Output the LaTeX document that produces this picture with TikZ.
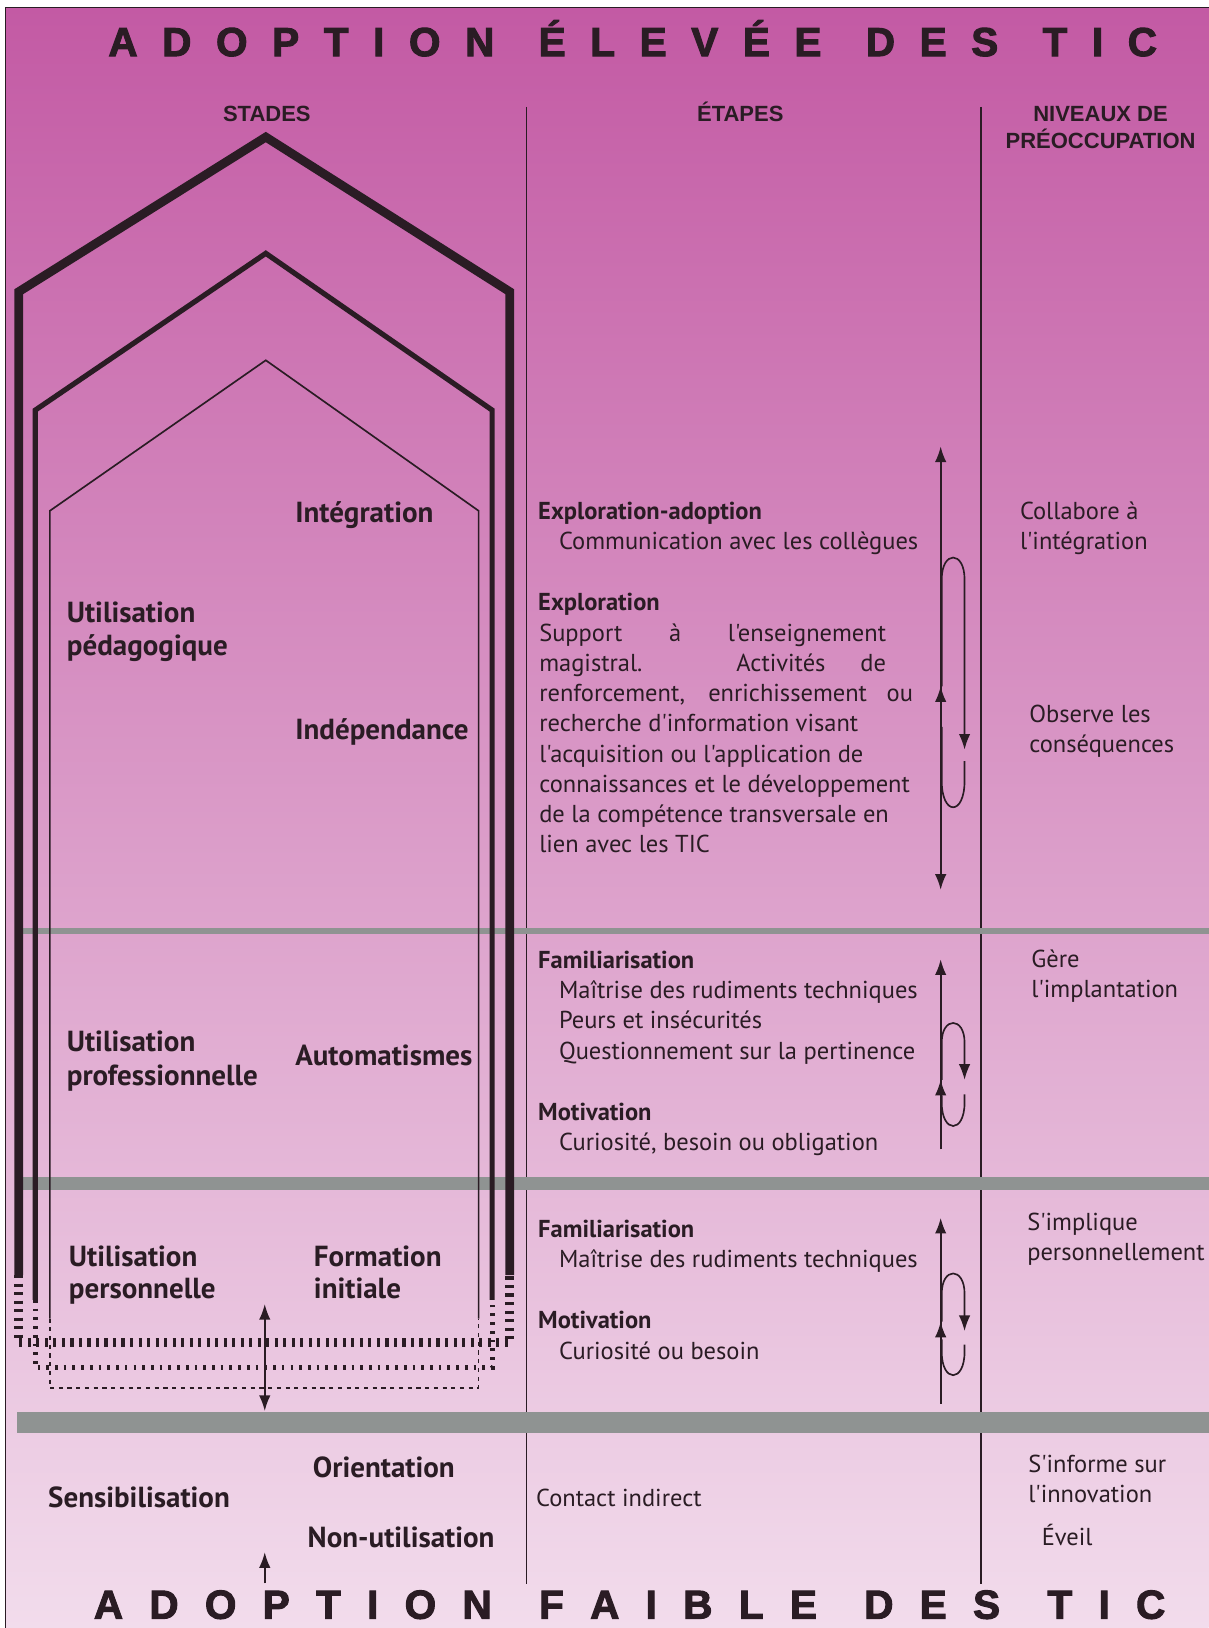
\documentclass[tikz,border=0pt]{standalone}
\usepackage{fontspec}
\setmainfont{PT Sans}[Ligatures=TeXOff]
\newfontfamily\hfont{Liberation Sans}[Ligatures=TeXOff]
\newfontfamily\tfont{Liberation Sans Bold}[Ligatures=TeXOff,FakeBold=2.5]
\usetikzlibrary{arrows.meta}
\definecolor{bgtop}{HTML}{C35AA4}
\definecolor{bgmid}{HTML}{DA94C6}
\definecolor{bgbot}{HTML}{F2DCEC}
\definecolor{bandgray}{HTML}{8F9392}
\definecolor{ink}{HTML}{2A1C24}
\newlength\calw
\newlength\calx
\AtBeginDocument{%
  \settowidth\calw{\normalfont\fontsize{10pt}{12pt}\selectfont Communication avec les collègues}%
  \settowidth\calx{\normalfont\fontsize{10pt}{12pt}\selectfont\bfseries Indépendance}%
  \pgfmathsetmacro\bsz{10*173/\calw}%
  \pgfmathsetmacro\ssz{10*83.5/\calx}%
  \xdef\bsz{\bsz}\xdef\ssz{\ssz}}
\newcommand\bodyfnt{\fontsize{\bsz pt}{\bsz pt}\selectfont}
\newcommand\stagefnt{\fontsize{\ssz pt}{\ssz pt}\selectfont\bfseries}
\newcommand\headfnt{\hfont\bfseries\fontsize{10.6pt}{12pt}\selectfont}
\newcommand\titlefnt{\tfont\fontsize{19.5pt}{23pt}\selectfont}
\newcommand\lgap{\hskip 0pt plus 1fil\relax}
\newcommand\wgap{\hskip 0pt plus 1.8fil\relax}
\begin{document}
\begin{tikzpicture}[x=0.5pt,y=-0.5pt,
  >={Latex[length=7.5pt,width=5.5pt]},
  bodytxt/.style={anchor=base west,inner sep=0pt,text=ink,font=\bodyfnt},
  boldtxt/.style={anchor=base west,inner sep=0pt,text=ink,font=\bodyfnt\bfseries},
  stagetxt/.style={anchor=base west,inner sep=0pt,text=ink,font=\stagefnt},
  headtxt/.style={anchor=base,inner sep=0pt,text=ink,font=\headfnt},
  titletxt/.style={anchor=base west,inner sep=0pt,text=ink,font=\titlefnt},
  divider/.style={draw=ink,line width=0.7pt},
  band/.style={fill=bandgray,draw=none},
  arr/.style={draw=ink,line width=0.8pt},
  house1/.style={draw=ink,line width=4.25pt},
  house2/.style={draw=ink,line width=2.5pt},
  house3/.style={draw=ink,line width=0.8pt},
  hatch1/.style={draw=ink,line width=4.25pt,dash pattern=on 1.5pt off 2.6pt},
  hatch2/.style={draw=ink,line width=2.5pt,dash pattern=on 1.3pt off 2.9pt},
  hatch3/.style={draw=ink,line width=0.8pt,dash pattern=on 2pt off 2.2pt}]
\useasboundingbox (0,0) rectangle (1164,1568);
% background
\fill[white] (0,0) rectangle (1164,1568);
\shade[top color=bgtop,middle color=bgmid,bottom color=bgbot] (5,7) rectangle (1164,1568);
\draw[ink,line width=0.6pt] (5,1568) -- (5,7) -- (1164,7);
% column dividers
\draw[divider] (507,103) -- (507,1526);
\draw[divider] (945,103) -- (945,1526);
% gray bands
\fill[band] (18,894) rectangle (1164,900);
\fill[band] (16,1134) rectangle (1164,1146);
\fill[band] (16,1360) rectangle (1164,1380);
% houses (stages)
\draw[house1] (18,1228) -- (18,281) -- (256,132) -- (491,281) -- (491,1228);
\draw[hatch1] (18,1228) -- (18,1293) -- (491,1293) -- (491,1228);
\draw[house2] (34,1252) -- (34,395) -- (256,244) -- (474,395) -- (474,1252);
\draw[hatch2] (34,1252) -- (34,1317) -- (474,1317) -- (474,1252);
\draw[house3] (48,1270) -- (48,492) -- (256,347) -- (461,492) -- (461,1270);
\draw[hatch3] (48,1270) -- (48,1337) -- (461,1337) -- (461,1270);
% arrows in STADES column
\coordinate (sa1) at (255,1256);
\coordinate (sa2) at (255,1359);
\draw[arr,<->] (sa2) -- (sa1);
\coordinate (sb1) at (255,1525);
\coordinate (sb2) at (255,1495);
\draw[arr,->] (sb1) -- (sb2);
% cycle arrows, upper section
\coordinate (u1) at (906,857);
\coordinate (u2) at (906,430);
\draw[arr,<->] (u1) -- (u2);
\coordinate (u3) at (906,690);
\coordinate (u4) at (906,661);
\draw[arr,->] (u3) -- (u4);
\coordinate (u5) at (929,722);
\draw[arr,->] (907,661) -- (907,558) .. controls (907,530) and (929,530) .. (929,558) -- (u5);
\draw[arr] (929,733) -- (929,752) .. controls (929,786) and (907,786) .. (907,752) -- (907,700);
% cycle arrows, middle section
\coordinate (m1) at (906,1107);
\coordinate (m2) at (906,924);
\draw[arr,->] (m1) -- (m2);
\coordinate (m3) at (906,1062);
\coordinate (m4) at (906,1040);
\draw[arr,->] (m3) -- (m4);
\coordinate (m5) at (929,1040);
\draw[arr,->] (907,1040) -- (907,1004) .. controls (907,979) and (929,979) .. (929,1004) -- (m5);
\draw[arr] (929,1054) -- (929,1062) .. controls (929,1092) and (907,1092) .. (907,1062) -- (907,1055);
% cycle arrows, lower section
\coordinate (l1) at (906,1352);
\coordinate (l2) at (906,1173);
\draw[arr,->] (l1) -- (l2);
\coordinate (l3) at (906,1295);
\coordinate (l4) at (906,1273);
\draw[arr,->] (l3) -- (l4);
\coordinate (l5) at (929,1282);
\draw[arr,->] (907,1273) -- (907,1246) .. controls (907,1220) and (929,1220) .. (929,1246) -- (l5);
\draw[arr] (929,1295) -- (929,1302) .. controls (929,1332) and (907,1332) .. (907,1302) -- (907,1290);
% titles
\node[titletxt] (ttop) at (104,54) {\makebox[505pt][s]{A\lgap D\lgap O\lgap P\lgap T\lgap I\lgap O\lgap N\wgap É\lgap L\lgap E\lgap V\lgap É\lgap E\wgap D\lgap E\lgap S\wgap T\lgap I\lgap C}};
\node[titletxt] (tbot) at (90,1559) {\makebox[516pt][s]{A\lgap D\lgap O\lgap P\lgap T\lgap I\lgap O\lgap N\wgap F\lgap A\lgap I\lgap B\lgap L\lgap E\wgap D\lgap E\lgap S\wgap T\lgap I\lgap C}};
% headers
\node[headtxt] (h1) at (257,117) {STADES};
\node[headtxt] (h2) at (713,117) {ÉTAPES};
\node[headtxt] (h3) at (1060,117) {NIVEAUX DE};
\node[headtxt] (h4) at (1060,143) {PRÉOCCUPATION};
% stage labels
\node[stagetxt] (st1) at (284,503) {Intégration};
\node[stagetxt] (st2) at (64,600) {Utilisation};
\node[stagetxt] (st3) at (64,631) {pédagogique};
\node[stagetxt] (st4) at (284,712) {Indépendance};
\node[stagetxt] (st5) at (64,1013) {Utilisation};
\node[stagetxt] (st6) at (64,1045) {professionnelle};
\node[stagetxt] (st7) at (284,1026) {Automatismes};
\node[stagetxt] (st8) at (66,1220) {Utilisation};
\node[stagetxt] (st9) at (66,1251) {personnelle};
\node[stagetxt] (st10) at (302,1220) {Formation};
\node[stagetxt] (st11) at (302,1251) {initiale};
\node[stagetxt] (st12) at (46,1452) {Sensibilisation};
\node[stagetxt] (st13) at (301,1423) {Orientation};
\node[stagetxt] (st14) at (296,1490) {Non-utilisation};
% etapes
\node[boldtxt] (e1) at (518,500) {Exploration-adoption};
\node[bodytxt] (e2) at (538,529) {Communication avec les collègues};
\node[boldtxt] (e3) at (518,588) {Exploration};
\node[bodytxt] (e4) at (519,618) {\makebox[167pt][s]{Support à l'enseignement}};
\node[bodytxt] (e5) at (519,647) {\makebox[167pt][s]{magistral. Activités de}};
\node[bodytxt] (e6) at (519,676) {\makebox[180pt][s]{renforcement, enrichissement ou}};
\node[bodytxt] (e7) at (519,705) {recherche d'information visant};
\node[bodytxt] (e8) at (519,734) {l'acquisition ou l'application de};
\node[bodytxt] (e9) at (519,763) {connaissances et le développement};
\node[bodytxt] (e10) at (519,792) {de la compétence transversale en};
\node[bodytxt] (e11) at (519,821) {lien avec les TIC};
\node[boldtxt] (e12) at (518,933) {Familiarisation};
\node[bodytxt] (e13) at (538,962) {Maîtrise des rudiments techniques};
\node[bodytxt] (e14) at (538,991) {Peurs et insécurités};
\node[bodytxt] (e15) at (538,1020) {Questionnement sur la pertinence};
\node[boldtxt] (e16) at (518,1079) {Motivation};
\node[bodytxt] (e17) at (538,1108) {Curiosité, besoin ou obligation};
\node[boldtxt] (e18) at (518,1192) {Familiarisation};
\node[bodytxt] (e19) at (538,1221) {Maîtrise des rudiments techniques};
\node[boldtxt] (e20) at (518,1280) {Motivation};
\node[bodytxt] (e21) at (538,1309) {Curiosité ou besoin};
\node[bodytxt] (e22) at (516,1451) {Contact indirect};
% niveaux
\node[bodytxt] (n1) at (982,500) {Collabore à};
\node[bodytxt] (n2) at (982,529) {l'intégration};
\node[bodytxt] (n3) at (991,696) {Observe les};
\node[bodytxt] (n4) at (991,725) {conséquences};
\node[bodytxt] (n5) at (993,932) {Gère};
\node[bodytxt] (n6) at (993,961) {l'implantation};
\node[bodytxt] (n7) at (989,1185) {S'implique};
\node[bodytxt] (n8) at (989,1214) {personnellement};
\node[bodytxt] (n9) at (990,1418) {S'informe sur};
\node[bodytxt] (n10) at (990,1447) {l'innovation};
\node[bodytxt] (n11) at (1003,1489) {Éveil};
\end{tikzpicture}
\end{document}
